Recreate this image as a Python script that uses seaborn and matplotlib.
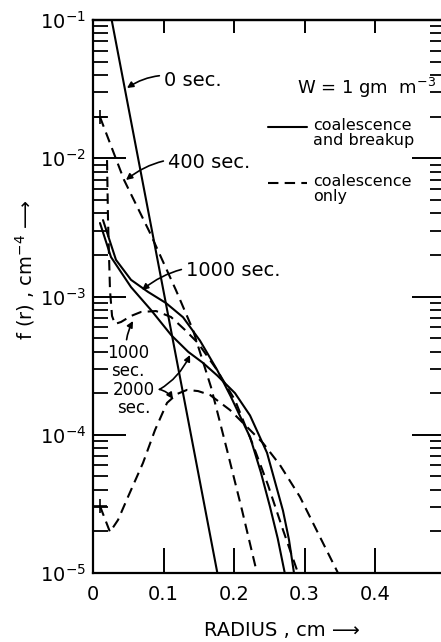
import numpy as np
import pandas as pd
import matplotlib
matplotlib.use("Agg")
import matplotlib.pyplot as plt
import seaborn as sns
from matplotlib.ticker import LogLocator, NullFormatter, FixedLocator

# ---------------- data ----------------
# 0 sec (initial distribution, solid)
r_0s = [0.0265, 0.1015, 0.1764]
f_0s = [1.0e-1, 1.0e-3, 1.0e-5]

# 400 sec, coalescence only (dashed)
r_400c = [0.0099, 0.0440, 0.0809, 0.1177, 0.1418, 0.1674, 0.1901, 0.2113, 0.2326]
f_400c = [1.99e-2, 6.97e-3, 2.88e-3, 1.11e-3, 5.73e-4, 2.21e-4, 7.76e-5, 2.86e-5, 1.0e-5]

# 1000 sec, coalescence only (dashed)
r_1000c = [0.0199, 0.0213, 0.0241, 0.0270, 0.0312, 0.0397, 0.0539, 0.0681, 0.0894,
           0.1106, 0.1305, 0.1489, 0.1759, 0.2014, 0.2270, 0.2482, 0.2695, 0.2908]
f_1000c = [9.7e-3, 3.57e-3, 1.11e-3, 7.23e-4, 6.33e-4, 6.54e-4, 7.23e-4, 7.73e-4, 7.85e-4,
           7.11e-4, 5.73e-4, 4.61e-4, 2.94e-4, 1.78e-4, 8.43e-5, 4.33e-5, 2.05e-5, 1.0e-5]

# 2000 sec, coalescence only (dashed)
r_2000c = [0.0099, 0.0241, 0.0355, 0.0496, 0.0709, 0.0879, 0.1050, 0.1190, 0.1333,
           0.1490, 0.1660, 0.1943, 0.2184, 0.2411, 0.2652, 0.2936, 0.3220, 0.3475]
f_2000c = [3.05e-5, 1.98e-5, 2.42e-5, 3.55e-5, 6.25e-5, 1.08e-4, 1.70e-4, 1.97e-4, 2.11e-4,
           2.07e-4, 1.94e-4, 1.51e-4, 1.14e-4, 8.71e-5, 6.04e-5, 3.55e-5, 1.82e-5, 1.0e-5]

# 1000 sec, coalescence and breakup (solid)
r_1000b = [0.0142, 0.0326, 0.0539, 0.0780, 0.1035, 0.1277, 0.1518, 0.1760, 0.1950,
           0.2090, 0.2230, 0.2380, 0.2510, 0.2620, 0.2720]
f_1000b = [3.57e-3, 1.84e-3, 1.32e-3, 1.08e-3, 8.97e-4, 7.08e-4, 4.79e-4, 2.95e-4, 1.91e-4,
           1.35e-4, 9.55e-5, 5.37e-5, 3.02e-5, 1.78e-5, 1.0e-5]

# 2000 sec, coalescence and breakup (solid)
r_2000b = [0.0099, 0.0255, 0.0539, 0.0823, 0.1110, 0.1350, 0.1560, 0.1760, 0.2014,
           0.2227, 0.2468, 0.2695, 0.2780, 0.2851]
f_2000b = [3.40e-3, 1.93e-3, 1.17e-3, 7.98e-4, 5.25e-4, 3.98e-4, 3.31e-4, 2.69e-4, 2.00e-4,
           1.38e-4, 7.41e-5, 2.82e-5, 1.74e-5, 1.0e-5]

x_ticks = [0.0, 0.1, 0.2, 0.3, 0.4]
x_tick_labels = ["0", "0.1", "0.2", "0.3", "0.4"]
y_ticks = [1e-5, 1e-4, 1e-3, 1e-2, 1e-1]

# ---------------- style ----------------
sns.set_style("ticks")
plt.rcParams['font.family'] = ['DejaVu Sans']
plt.rcParams['mathtext.fontset'] = 'dejavusans'
for k in ["text.color", "axes.labelcolor", "xtick.color", "ytick.color", "axes.edgecolor"]:
    plt.rcParams[k] = "black"

W, H = 441, 642
fig = plt.figure(figsize=(W / 100, H / 100), dpi=100)
ax = fig.add_axes([93 / W, 69 / H, 352.5 / W, 553 / H])

DASH = (0, (5, 3))
LW = 1.5

def draw(r, f, dashed):
    df = pd.DataFrame({"r": r, "f": f})
    sns.lineplot(data=df, x="r", y="f", ax=ax, color="black", lw=LW,
                 linestyle=DASH if dashed else "-", estimator=None, sort=False)

draw(r_0s, f_0s, False)
draw(r_400c, f_400c, True)
draw(r_1000c, f_1000c, True)
draw(r_2000c, f_2000c, True)
draw(r_1000b, f_1000b, False)
draw(r_2000b, f_2000b, False)

# "+" marks at starting points of two dashed curves
sns.scatterplot(x=[r_400c[0], r_2000c[0]], y=[f_400c[0], f_2000c[0]], ax=ax,
                marker="+", s=90, color="black", linewidth=1.2, zorder=5)

ax.set_yscale("log")
ax.set_xlim(0, 0.5)
ax.set_ylim(1e-5, 1e-1)
ax.set_xlabel("")
ax.set_ylabel("")

ax.xaxis.set_major_locator(FixedLocator(x_ticks))
ax.set_xticklabels(x_tick_labels)
ax.yaxis.set_major_locator(FixedLocator(y_ticks))
ax.yaxis.set_minor_locator(LogLocator(base=10, subs=np.arange(2, 10), numticks=20))
ax.yaxis.set_minor_formatter(NullFormatter())
ax.set_yticklabels([r"$10^{-5}$", r"$10^{-4}$", r"$10^{-3}$", r"$10^{-2}$", r"$10^{-1}$"])

ax.tick_params(axis="x", which="major", direction="in", length=18, width=1.4,
               bottom=True, top=False, labelsize=14, pad=9, colors="black")
ax.tick_params(axis="x", which="minor", bottom=False, top=False)
ax.tick_params(axis="y", which="major", direction="in", length=24, width=1.4,
               left=True, right=True, labelsize=14, pad=5, colors="black")
ax.tick_params(axis="y", which="minor", direction="in", length=11, width=1.3,
               left=True, right=True, colors="black")

sec = ax.secondary_xaxis("top")
sec.set_xticks(x_ticks)
sec.tick_params(direction="in", length=9.5, width=1.4, labeltop=False, colors="black")
sec.spines["top"].set_linewidth(1.6)

for s in ax.spines.values():
    s.set_linewidth(1.6)
    s.set_color("black")

# ---------------- text ----------------
def P(px, py):
    return ((px - 93) / 705.0, 10 ** (-1 - (py - 20) / 138.25))

arrow_kw = dict(arrowstyle="-|>", color="black", lw=1.2, mutation_scale=9,
                shrinkA=1, shrinkB=0)

ax.annotate("0 sec.", xy=P(127, 88), xytext=P(164, 80), fontsize=14,
            ha="left", va="center",
            arrowprops=dict(connectionstyle="arc3,rad=0.25", **arrow_kw))
ax.annotate("400 sec.", xy=P(126, 180), xytext=P(168, 162), fontsize=14,
            ha="left", va="center",
            arrowprops=dict(connectionstyle="arc3,rad=0.25", **arrow_kw))
ax.annotate("1000 sec.", xy=P(142, 290), xytext=P(186, 270), fontsize=14,
            ha="left", va="center",
            arrowprops=dict(connectionstyle="arc3,rad=0.25", **arrow_kw))
ax.annotate("1000\nsec.", xy=P(133, 321), xytext=P(128, 362), fontsize=12,
            ha="center", va="center", linespacing=0.95,
            arrowprops=dict(connectionstyle="arc3,rad=-0.2", **arrow_kw))
ax.annotate("2000\nsec.", xy=P(190, 355), xytext=P(134, 399), fontsize=12,
            ha="center", va="center", linespacing=0.95,
            arrowprops=dict(connectionstyle="arc3,rad=0.25", **arrow_kw))
ax.annotate("", xy=P(173, 399), xytext=P(158, 389),
            arrowprops=dict(connectionstyle="arc3,rad=-0.2", **arrow_kw))

ax.text(*P(297, 88), r"W = 1 gm  m$^{-3}$", fontsize=13, ha="left", va="center")

# legend
for (y1, ls, l1, l2) in [(127, "-", "coalescence", "and breakup"),
                         (183, DASH, "coalescence", "only")]:
    xa, ya = P(268, y1)
    xb, _ = P(307, y1)
    ax.plot([xa, xb], [ya, ya], color="black", lw=LW, linestyle=ls)
    ax.text(*P(313, y1 - 9), l1 + "\n" + l2, fontsize=11.5, ha="left", va="top",
            linespacing=1.0)

fig.text(282 / W, 1 - 630 / H, "RADIUS , cm \u27f6", fontsize=14, ha="center", va="center")
fig.text(25 / W, 1 - 270 / H, r"f (r) , cm$^{-4}$ " + "\u27f6", fontsize=14,
         ha="center", va="center", rotation=90)

fig.savefig("out.png", dpi=100)
